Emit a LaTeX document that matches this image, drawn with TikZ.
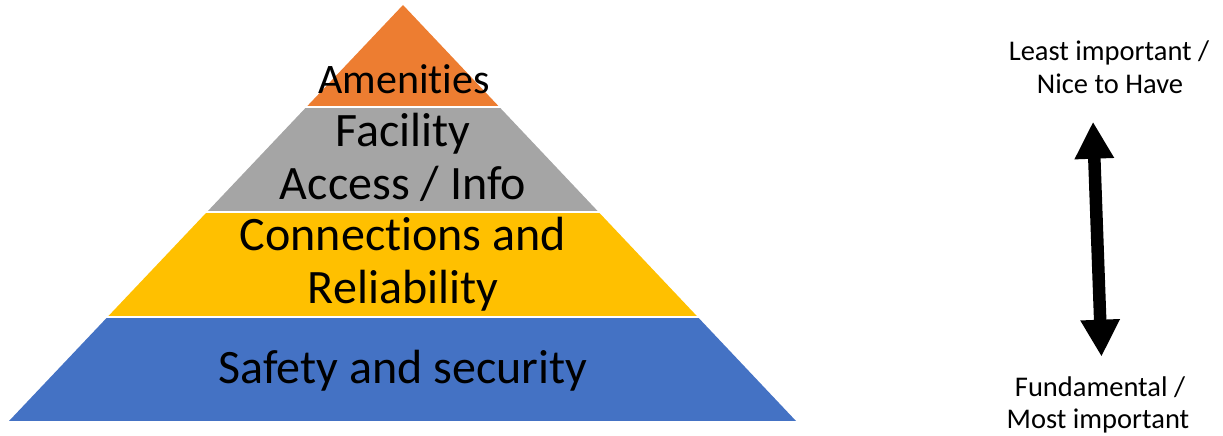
\documentclass[tikz,border=0pt]{standalone}
\usepackage{fontspec}
\setmainfont{Carlito}[Ligatures={NoCommon,NoRequired,NoContextual}]
\usetikzlibrary{arrows.meta}
\definecolor{amenorange}{HTML}{ED7D31}
\definecolor{facgray}{HTML}{A5A5A5}
\definecolor{connyellow}{HTML}{FFC000}
\definecolor{safeblue}{HTML}{4472C4}
\newcommand{\nolig}{\kern0pt{}}
\tikzset{
  bigtext/.style={inner sep=0pt, anchor=base, font=\fontsize{48}{52}\selectfont},
  toptext/.style={inner sep=0pt, anchor=base, font=\fontsize{42}{46}\selectfont},
  sidetext/.style={inner sep=0pt, anchor=base, font=\fontsize{28.5}{33}\selectfont},
  bigarrow/.style={line width=12.5pt, {Triangle[width=37pt,length=37pt]}-{Triangle[width=37pt,length=37pt]}}
}
\begin{document}
\begin{tikzpicture}[x=1pt,y=-1pt]
\useasboundingbox (0,0) rectangle (1223,436);
\coordinate (apex) at (403,5);
\coordinate (bl) at (9,421);
\coordinate (br) at (796,421);
\begin{scope}
  \clip (apex) -- (br) -- (bl) -- cycle;
  \fill[amenorange] (0,0) rectangle (1223,106);
  \fill[facgray] (0,108.4) rectangle (1223,210.8);
  \fill[connyellow] (0,213.2) rectangle (1223,315.8);
  \fill[safeblue] (0,318.3) rectangle (1223,421);
\end{scope}
\node[toptext] (amen) at (404,93) {Amenit\nolig ies};
\node[bigtext] (fac1) at (403,146.7) {Facility};
\node[bigtext] (fac2) at (403,199) {Access / Info};
\node[bigtext] (con1) at (403,250.5) {Connect\nolig ions and};
\node[bigtext] (con2) at (403,303) {Reliability};
\node[bigtext] (safe) at (403,383) {Safety and security};
\node[sidetext] (least1) at (1109,60) {Least important /};
\node[sidetext] (least2) at (1110,93.3) {Nice to Have};
\node[sidetext] (fund1) at (1100,396.7) {Fundamental /};
\node[sidetext] (fund2) at (1098,428.3) {Most important};
\coordinate (atop) at (1093,121.7);
\coordinate (abot) at (1101.5,356.7);
\draw[bigarrow] (atop) -- (abot);
\end{tikzpicture}
\end{document}
